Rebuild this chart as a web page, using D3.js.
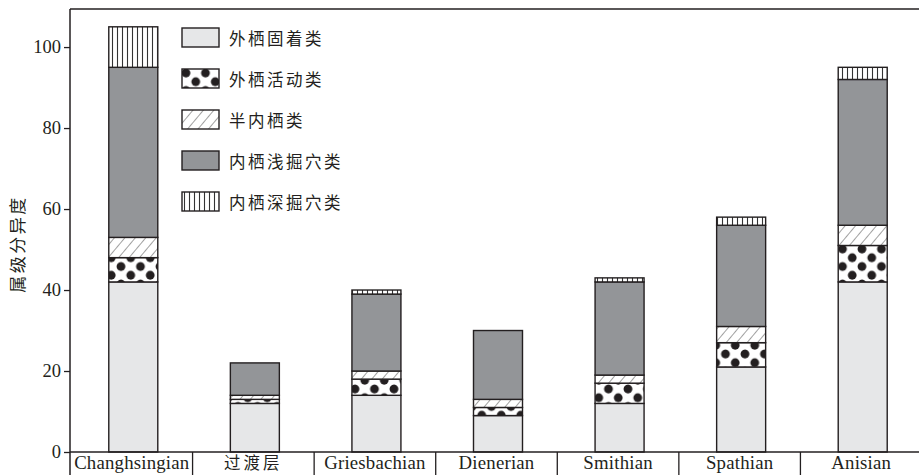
<!DOCTYPE html>
<html>
<head>
<meta charset="utf-8">
<script src="https://cdn.jsdelivr.net/npm/d3@7"></script>
<style>
  body { margin: 0; background: #fff; }
  svg { display: block; }
  .serif { font-family: "Liberation Serif", "DejaVu Serif", "Times New Roman", Times, serif; }
</style>
</head>
<body>
<div id="chart"></div>
<script>
// stages along the x axis
var stages = ["Changhsingian", "过渡层", "Griesbachian", "Dienerian", "Smithian", "Spathian", "Anisian"];
// ecological groups (stack order bottom -> top)
var groups = ["外栖固着类", "外栖活动类", "半内栖类", "内栖浅掘穴类", "内栖深掘穴类"];
// genus counts per group, one value per stage
var epiSessile  = [42, 12, 14, 9, 12, 21, 42];
var epiMobile   = [6, 1, 4, 2, 5, 6, 9];
var semiInfauna = [5, 1, 2, 2, 2, 4, 5];
var shallowBurrow = [42, 8, 19, 17, 23, 25, 36];
var deepBurrow  = [10, 0, 1, 0, 1, 2, 3];
var yTicks = [0, 20, 40, 60, 80, 100];

var W = 919, H = 475;
var margin = { top: 9, left: 70, bottom: 23 };
var axisY = H - margin.bottom; // 452
var serifFont = "'Liberation Serif', 'DejaVu Serif', 'Times New Roman', Times, serif";
var cjkFont = "'Noto Sans CJK SC', sans-serif";

var svg = d3.select("#chart").append("svg")
  .attr("width", W)
  .attr("height", H);

var defs = svg.append("defs");
var ink = "#231f20";

// dots
var pDots = defs.append("pattern").attr("id", "dots")
  .attr("patternUnits", "userSpaceOnUse").attr("width", 19.5).attr("height", 17.5);
pDots.append("rect").attr("width", 19.5).attr("height", 17.5).attr("fill", "#fff");
[[4, 4], [13.75, 12.75], [23.5, 4], [4, 21.5], [23.5, 21.5], [-5.75, 12.75], [13.75, -4.75]].forEach(function (c) {
  pDots.append("circle").attr("cx", c[0]).attr("cy", c[1]).attr("r", 4.4).attr("fill", ink);
});

// diagonal hatch
var pHatch = defs.append("pattern").attr("id", "hatch")
  .attr("patternUnits", "userSpaceOnUse").attr("width", 8).attr("height", 8)
  .attr("patternTransform", "rotate(40)");
pHatch.append("rect").attr("width", 8).attr("height", 8).attr("fill", "#fff");
pHatch.append("line").attr("x1", 0).attr("y1", 0).attr("x2", 0).attr("y2", 8)
  .attr("stroke", "#444").attr("stroke-width", 1);

// vertical stripes
var pVert = defs.append("pattern").attr("id", "vert")
  .attr("patternUnits", "userSpaceOnUse").attr("width", 5).attr("height", 5);
pVert.append("rect").attr("width", 5).attr("height", 5).attr("fill", "#fff");
pVert.append("line").attr("x1", 2.5).attr("y1", 0).attr("x2", 2.5).attr("y2", 5)
  .attr("stroke", "#333").attr("stroke-width", 1.1);

var fills = ["#e6e7e8", "url(#dots)", "url(#hatch)", "#939598", "url(#vert)"];

var table = stages.map(function (s, i) {
  var d = { stage: s };
  d[groups[0]] = epiSessile[i];
  d[groups[1]] = epiMobile[i];
  d[groups[2]] = semiInfauna[i];
  d[groups[3]] = shallowBurrow[i];
  d[groups[4]] = deepBurrow[i];
  return d;
});

var x = d3.scaleBand().domain(stages).range([71, 922]).paddingInner(0).paddingOuter(0);
var y = d3.scaleLinear().domain([0, 109.4]).range([axisY, margin.top]);

var series = d3.stack().keys(groups)(table);

var barW = 49;

// ======== bars ========
var layers = svg.selectAll(".layer").data(series).enter().append("g")
  .attr("class", "layer")
  .attr("fill", function (d, i) { return fills[i]; });

layers.selectAll("rect")
  .data(function (d) { return d.filter(function (p) { return p[1] - p[0] > 0; }); })
  .enter().append("rect")
  .attr("x", function (d) { return x(d.data.stage) + x.bandwidth() / 2 - barW / 2 + 1.5; })
  .attr("y", function (d) { return y(d[1]); })
  .attr("width", barW)
  .attr("height", function (d) { return y(d[0]) - y(d[1]); })
  .attr("stroke", ink)
  .attr("stroke-width", 1.4);

// ======== frame / axes ========
svg.append("line").attr("x1", margin.left).attr("x2", W).attr("y1", margin.top).attr("y2", margin.top)
  .attr("stroke", ink).attr("stroke-width", 1.5);
svg.append("line").attr("x1", margin.left).attr("x2", margin.left).attr("y1", margin.top).attr("y2", H)
  .attr("stroke", ink).attr("stroke-width", 1.5);
svg.append("line").attr("x1", margin.left).attr("x2", W).attr("y1", axisY).attr("y2", axisY)
  .attr("stroke", ink).attr("stroke-width", 1.5);

var yAxis = d3.axisLeft(y).tickValues(yTicks).tickSize(6).tickPadding(3);
var gy = svg.append("g")
  .attr("transform", "translate(" + margin.left + ",0)")
  .call(yAxis)
  .attr("font-family", serifFont)
  .attr("font-size", 18.5);
gy.select(".domain").remove();
gy.selectAll(".tick line").attr("stroke", ink).attr("stroke-width", 1.3);
gy.selectAll(".tick text")
  .attr("class", "serif")
  .attr("fill", ink);

// category row with separators
svg.selectAll(".sep").data(stages).enter().append("line")
  .attr("class", "sep")
  .attr("x1", function (d) { return x(d) + x.bandwidth(); })
  .attr("x2", function (d) { return x(d) + x.bandwidth(); })
  .attr("y1", axisY).attr("y2", H)
  .attr("stroke", ink).attr("stroke-width", 1.3);

function isCJK(d) { return /[\u4e00-\u9fff]/.test(d); }

svg.selectAll(".cat").data(stages).enter().append("text")
  .attr("class", function (d) { return isCJK(d) ? "cat" : "cat serif"; })
  .attr("x", function (d) { return x(d) + x.bandwidth() / 2; })
  .attr("y", 468.5)
  .attr("text-anchor", "middle")
  .attr("fill", ink)
  .attr("font-family", function (d) { return isCJK(d) ? cjkFont : serifFont; })
  .attr("font-size", function (d) { return isCJK(d) ? 16.5 : 18.8; })
  .attr("letter-spacing", function (d) { return isCJK(d) ? 3 : 0.2; })
  .text(function (d) { return d; });

// y title
svg.append("text")
  .attr("transform", "translate(24,244) rotate(-90)")
  .attr("text-anchor", "middle")
  .attr("fill", ink)
  .attr("font-family", cjkFont)
  .attr("font-size", 17)
  .attr("letter-spacing", 2.5)
  .text("属级分异度");

// ======== legend ========
var legend = svg.selectAll(".leg").data(groups).enter().append("g")
  .attr("class", "leg")
  .attr("transform", function (d, i) { return "translate(182," + (28 + i * 41) + ")"; });

legend.append("rect")
  .attr("width", 37).attr("height", 19)
  .attr("fill", function (d, i) { return fills[i]; })
  .attr("stroke", ink).attr("stroke-width", 1.4);

legend.append("text")
  .attr("x", 47).attr("y", 10)
  .attr("dominant-baseline", "central")
  .attr("fill", ink)
  .attr("font-family", cjkFont)
  .attr("font-size", 16.5)
  .attr("letter-spacing", 2.5)
  .text(function (d) { return d; });
</script>
</body>
</html>
